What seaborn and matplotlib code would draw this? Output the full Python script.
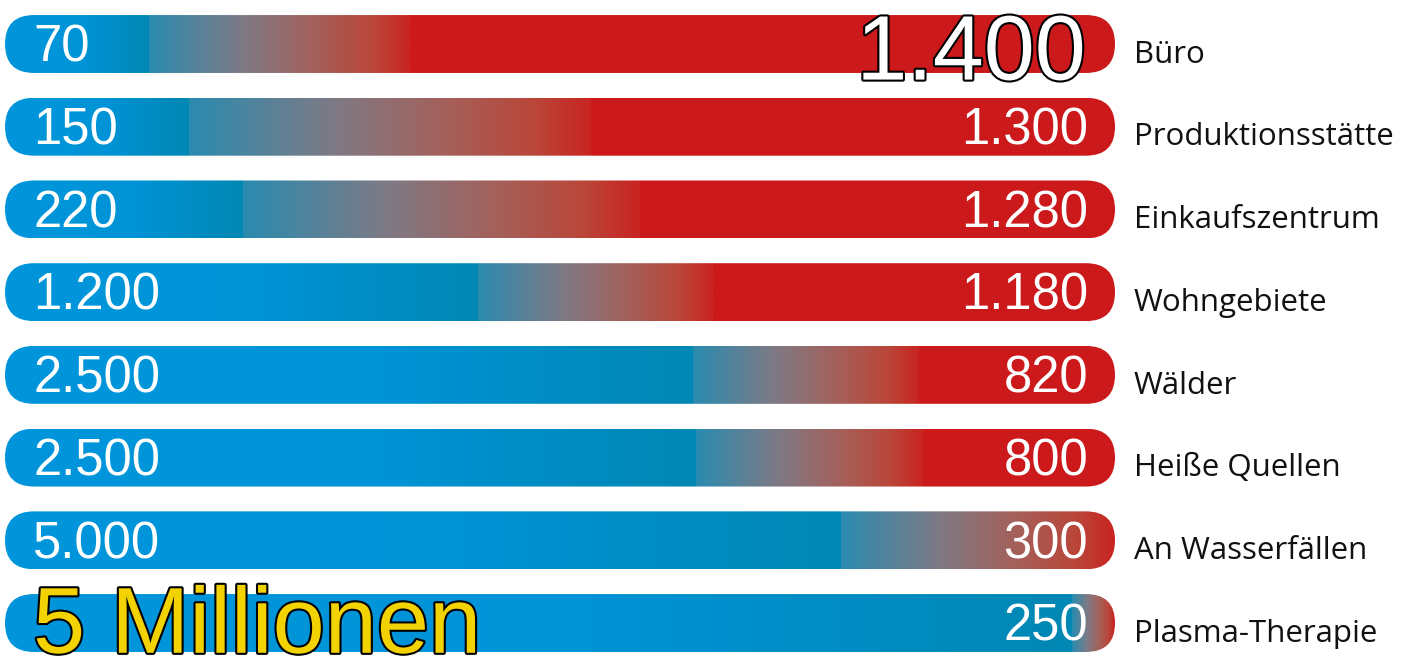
import numpy as np
import matplotlib
matplotlib.use("Agg")
import matplotlib.pyplot as plt
import matplotlib.patheffects as pe
from matplotlib.patches import FancyBboxPatch
from matplotlib.colors import to_rgb
import seaborn as sns

sns.set_theme(style="white")

# --- datos ---
kategorien = ["Büro", "Produktionsstätte", "Einkaufszentrum", "Wohngebiete",
              "Wälder", "Heiße Quellen", "An Wasserfällen", "Plasma-Therapie"]
werte_links = ["70", "150", "220", "1.200", "2.500", "2.500", "5.000", "5 Millionen"]
werte_rechts = ["1.400", "1.300", "1.280", "1.180", "820", "800", "300", "250"]
balken_laenge = [1, 1, 1, 1, 1, 1, 1, 1]
# Übergang blau -> rot (Anteil der Balkenlänge)
blau_ende = [0.129, 0.165, 0.214, 0.426, 0.620, 0.623, 0.753, 0.962]
rot_start = [0.365, 0.528, 0.572, 0.638, 0.824, 0.827, 1.0, 1.0]

W, H = 1410, 659
fig = plt.figure(figsize=(W / 100, H / 100), dpi=100)
ax = fig.add_axes([0, 0, 1, 1])

sns.barplot(x=balken_laenge, y=kategorien, orient="h", width=0.7, ax=ax,
            color="#0096DC")

# px -> Datenkoordinaten
x_lo, x_hi = 5, 1115
def px(x):
    return (x - x_lo) / (x_hi - x_lo)

ax.set_xlim(px(0), px(W))
ax.set_ylim(7.435, -0.532)
ax.axis("off")

STOP_FARBEN = ["#0096DC", "#0093D6", "#0087B3", "#2A8BB0", "#7E7A85",
               "#A5605A", "#BA4639", "#C92421", "#CC191B", "#CC191B"]

def verlauf(t1, t2, n=1110):
    t = np.linspace(0, 1, n)
    eps = 1e-4
    pos = [0, 0.55 * t1, t1, t1 + eps, t1 + 0.36 * (t2 - t1),
           t1 + 0.64 * (t2 - t1), t1 + 0.86 * (t2 - t1), t2, t2 + eps, 1.5]
    cols = np.array([to_rgb(c) for c in STOP_FARBEN])
    img = np.stack([np.interp(t, pos, cols[:, k]) for k in range(3)], axis=-1)
    return img[np.newaxis, :, :]

fig.canvas.draw()
p0 = ax.transData.transform((0, 0))
p1 = ax.transData.transform((1, 1))
px_per_x = abs(p1[0] - p0[0])
px_per_y = abs(p1[1] - p0[1])

for i, bar in enumerate(list(ax.patches)):
    x0, y0 = bar.get_x(), bar.get_y()
    w, h = bar.get_width(), bar.get_height()
    bar.set_visible(False)
    r_x = (h / 2) * px_per_y / px_per_x
    aspect = (h / 2) / r_x
    form = FancyBboxPatch((x0, y0), w, h,
                          boxstyle=f"round,pad=0,rounding_size={r_x}",
                          mutation_aspect=aspect, facecolor="none",
                          edgecolor="none", transform=ax.transData)
    ax.add_patch(form)
    im = ax.imshow(verlauf(blau_ende[i], rot_start[i]), aspect="auto",
                   extent=(x0, x0 + w, y0 + h, y0), interpolation="bilinear",
                   zorder=2)
    im.set_clip_path(form)

ax.set_xlim(px(0), px(W))
ax.set_ylim(7.435, -0.532)

zahl_font = "Liberation Sans"
ziffer_off = 0.215  # halbe Ziffernhöhe in Zeilen

for i, kat in enumerate(kategorien):
    # Kategorie rechts
    ax.text(px(1134), i + 0.13, kat, ha="left", va="center",
            fontsize=22.5, family="Open Sans", color="#111111", zorder=4)

    # linker Wert
    if i == len(kategorien) - 1:
        ax.text(px(33), i + 0.36, werte_links[i], ha="left", va="baseline",
                fontsize=67.5, family=zahl_font, color="#F2D200", zorder=5,
                path_effects=[pe.withStroke(linewidth=3, foreground="black")])
    else:
        ax.text(px(33), i + ziffer_off, werte_links[i], ha="left",
                va="baseline", fontsize=36.5, family=zahl_font, color="white",
                zorder=4)

    # rechter Wert
    if i == 0:
        ax.text(px(1086), i + 0.43, werte_rechts[i], ha="right",
                va="baseline", fontsize=66, family=zahl_font, color="white",
                zorder=5,
                path_effects=[pe.withStroke(linewidth=3, foreground="black")])
    else:
        ax.text(px(1088), i + ziffer_off, werte_rechts[i], ha="right",
                va="baseline", fontsize=36.5, family=zahl_font, color="white",
                zorder=4)

fig.savefig("out.png", dpi=100, facecolor="white")
